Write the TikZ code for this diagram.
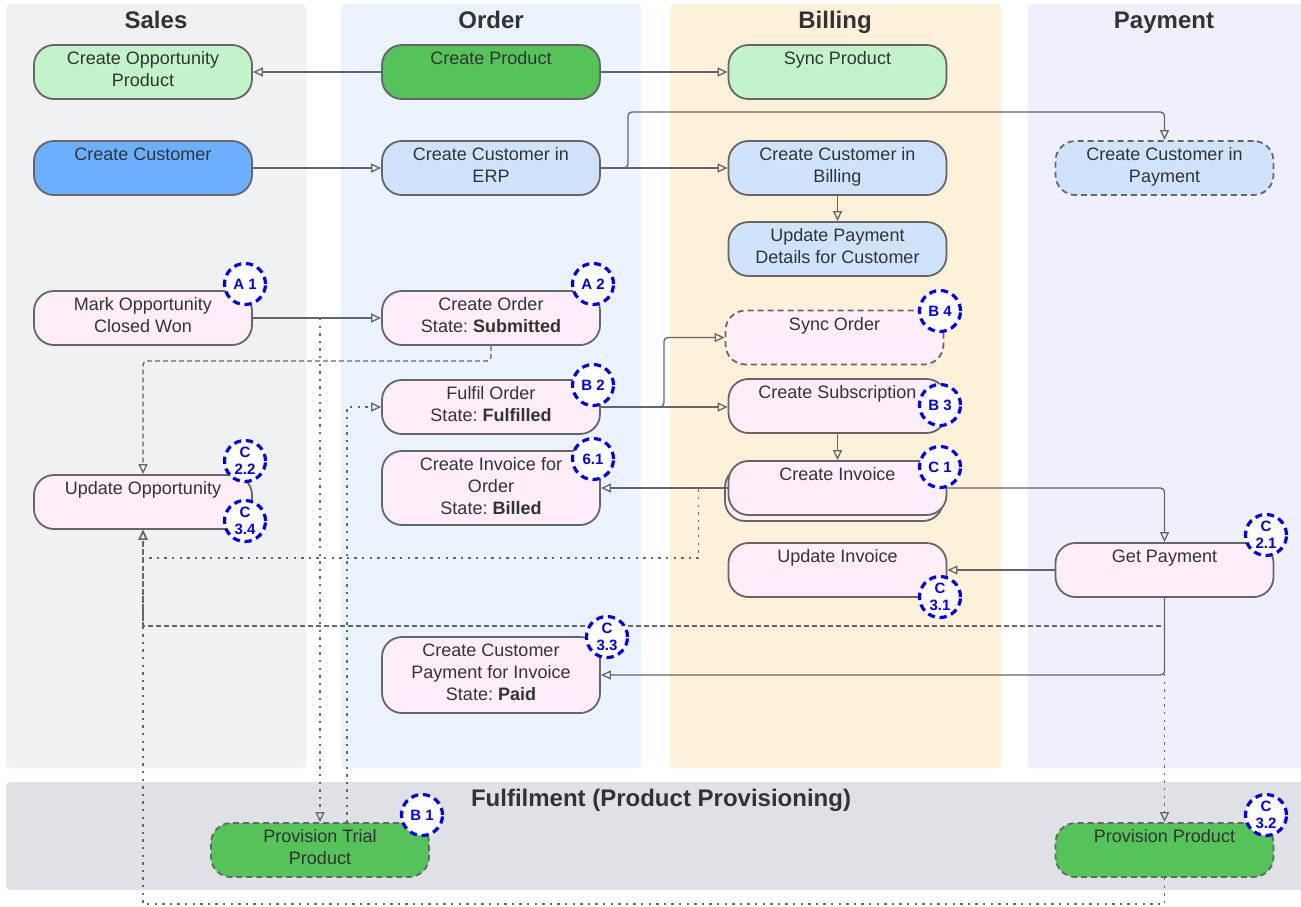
\documentclass[tikz,border=0pt]{standalone}
\usepackage{fontspec}
\setmainfont{Liberation Sans}
\usetikzlibrary{arrows.meta,positioning,calc}
\definecolor{lanesales}{HTML}{F0F1F3}
\definecolor{laneorder}{HTML}{EAF3FE}
\definecolor{lanebill}{HTML}{FEF1DA}
\definecolor{lanepay}{HTML}{EFF0FB}
\definecolor{lanefulfil}{HTML}{DFE1E5}
\definecolor{colpink}{HTML}{FDEEF8}
\definecolor{colsky}{HTML}{CFE3FC}
\definecolor{colblue}{HTML}{6BB0FF}
\definecolor{colmint}{HTML}{C3F3C8}
\definecolor{colgreen}{HTML}{55C25A}
\definecolor{colline}{HTML}{666666}
\definecolor{coltext}{HTML}{333333}
\definecolor{colbadge}{HTML}{0000E6}
\frenchspacing
% texto de la caja: arriba y centrado, como en el original
\newcommand{\tsk}[2][27pt]{\parbox[c][#1][t]{105pt}{\centering\vspace*{2.2pt}\strut #2}}

\begin{document}
\begin{tikzpicture}[
  x=0.5pt, y=-0.5pt,
  task/.style={draw=colline, line width=0.9pt, rounded corners=10pt,
    minimum width=109pt, minimum height=27pt, inner sep=0pt,
    text=coltext, font=\fontsize{9}{11}\selectfont},
  ghost/.style={task, dashed, dash pattern=on 3pt off 2pt},
  badge/.style={circle, draw=colbadge, fill=white, line width=1.6pt,
    dash pattern=on 3.6pt off 2.4pt, minimum size=20.5pt, inner sep=0pt,
    text=colbadge, align=center, font=\fontsize{7.5}{8.5}\selectfont\bfseries},
  lanetitle/.style={anchor=base, text=coltext, font=\fontsize{12}{14}\selectfont\bfseries},
  flow/.style={draw=colline, line width=0.65pt,
    -{Triangle[open, length=5pt, width=4.5pt]}},
  flowdash/.style={flow, dash pattern=on 2.5pt off 1.5pt},
  flowdot/.style={flow, dash pattern=on 1.2pt off 2.6pt},
]
  \useasboundingbox (0,0) rectangle (1301,906);

  % carriles
  \fill[lanesales, rounded corners=2pt] (6,4) rectangle (306,768);
  \fill[laneorder, rounded corners=2pt] (341,4) rectangle (641,768);
  \fill[lanebill, rounded corners=2pt] (670,4) rectangle (1001,768);
  \fill[lanepay, rounded corners=2pt] (1028,4) rectangle (1305,768);
  \fill[lanefulfil, rounded corners=2pt] (6,782) rectangle (1305,890);

  \node[lanetitle] (tsales) at (156,28) {Sales};
  \node[lanetitle] (torder) at (491,28) {Order};
  \node[lanetitle] (tbill) at (835,28) {Billing};
  \node[lanetitle] (tpay) at (1164,28) {Payment};
  \node[lanetitle] (tfulfil) at (661,806) {Fulfilment (Product Provisioning)};

  % Sales
  \node[task, fill=colmint] (opprod) at (143,72) {\tsk{Create Opportunity\\Product}};
  \node[task, fill=colblue] (newcust) at (143,168) {\tsk{Create Customer}};
  \node[task, fill=colpink] (oppwon) at (143,318) {\tsk{Mark Opportunity\\Closed Won}};
  \node[task, fill=colpink] (oppupd) at (143,502) {\tsk{Update Opportunity}};

  % Order
  \node[task, fill=colgreen] (product) at (491,72) {\tsk{Create Product}};
  \node[task, fill=colsky] (erpcust) at (491,168) {\tsk{Create Customer in\\ERP}};
  \node[task, fill=colpink] (order) at (491,318) {\tsk{Create Order\\State: \textbf{Submitted}}};
  \node[task, fill=colpink] (fulfil) at (491,407) {\tsk{Fulfil Order\\State: \textbf{Fulfilled}}};
  \node[task, fill=colpink, minimum height=37pt] (ordinv) at (491,488)
        {\tsk[37pt]{Create Invoice for\\Order\\State: \textbf{Billed}}};
  \node[task, fill=colpink, minimum height=38pt] (custpay) at (491,675)
        {\tsk[38pt]{Create Customer\\Payment for Invoice\\State: \textbf{Paid}}};

  % Billing
  \node[task, fill=colmint] (syncprod) at (837.5,72) {\tsk{Sync Product}};
  \node[task, fill=colsky] (billcust) at (837.5,168) {\tsk{Create Customer in\\Billing}};
  \node[task, fill=colsky] (paydet) at (837.5,249) {\tsk{Update Payment\\Details for Customer}};
  \node[ghost, fill=colpink] (syncord) at (834.5,337.5) {\tsk{Sync Order}};
  \node[task, fill=colpink] (subscr) at (837.5,406) {\tsk{Create Subscription}};
  \node[task, fill=colpink] (invback) at (834,494) {};
  \node[task, fill=colpink] (invoice) at (837.5,488) {\tsk{Create Invoice}};
  \node[task, fill=colpink] (invupd) at (837.5,570) {\tsk{Update Invoice}};

  % Payment
  \node[ghost, fill=colsky] (paycust) at (1164.5,168) {\tsk{Create Customer in\\Payment}};
  \node[task, fill=colpink] (getpay) at (1164.5,570) {\tsk{Get Payment}};

  % Fulfilment
  \node[ghost, fill=colgreen] (trial) at (320,850) {\tsk{Provision Trial\\Product}};
  \node[ghost, fill=colgreen] (provis) at (1164.5,850) {\tsk{Provision Product}};

  % conectores
  \draw[flow] (product) -- (opprod);
  \draw[flow] (product) -- (syncprod);
  \draw[flow] (newcust) -- (erpcust);
  \draw[flow] (erpcust) -- (billcust);
  \draw[flow, rounded corners=2pt] (erpcust.east) -- ++(27,0) -- ++(0,-56) -| (paycust.north);
  \draw[flow] (billcust) -- (paydet);
  \draw[flow] (oppwon) -- (order);
  \draw[flowdot] (trial.north |- oppwon.east) -- (trial.north);
  \draw[flowdot] ([xshift=13.5pt]trial.north) |- (fulfil.west);
  \draw[flowdash, rounded corners=2pt] (order.south) -- ++(0,15) -| (oppupd.north);
  \draw[flow, rounded corners=2pt] (fulfil.east) -- ++(63,0) |- (syncord.west);
  \draw[flow] (fulfil.east) -- (subscr.west |- fulfil.east);
  \draw[flow] (subscr) -- (invoice);
  \draw[flow] (invoice) -- (ordinv);
  \draw[flowdot] (invoice.west) -- ++(-29,0) -- ++(0,70) -| (oppupd.south);
  \draw[flowdash] (getpay.south) -- ++(0,28) -| (oppupd.south);
  \draw[flow, rounded corners=2pt] (getpay.south) |- (custpay.east);
  \draw[flowdot] (getpay.south) -- (provis.north);
  \draw[flowdot] (provis.south) -- ++(0,26) -| (oppupd.south);
  \draw[flow, rounded corners=2pt] (invoice.east) -| (getpay.north);
  \draw[flow] (getpay) -- (invupd);

  % marcas de paso
  \node[badge] (bA1) at (245,284) {A 1};
  \node[badge] (bA2) at (593,284) {A 2};
  \node[badge] (bB4) at (940,311) {B 4};
  \node[badge] (bB2) at (593,385) {B 2};
  \node[badge] (bB3) at (940,405) {B 3};
  \node[badge] (b61) at (593,459) {6.1};
  \node[badge] (bC1) at (940,467) {C 1};
  \node[badge] (bC22) at (245,461) {C\\2.2};
  \node[badge] (bC34) at (245,521) {C\\3.4};
  \node[badge] (bC21) at (1266,535) {C\\2.1};
  \node[badge] (bC31) at (940,597) {C\\3.1};
  \node[badge] (bC33) at (607,637) {C\\3.3};
  \node[badge] (bB1) at (422,815) {B 1};
  \node[badge] (bC32) at (1266,815) {C\\3.2};
\end{tikzpicture}
\end{document}
